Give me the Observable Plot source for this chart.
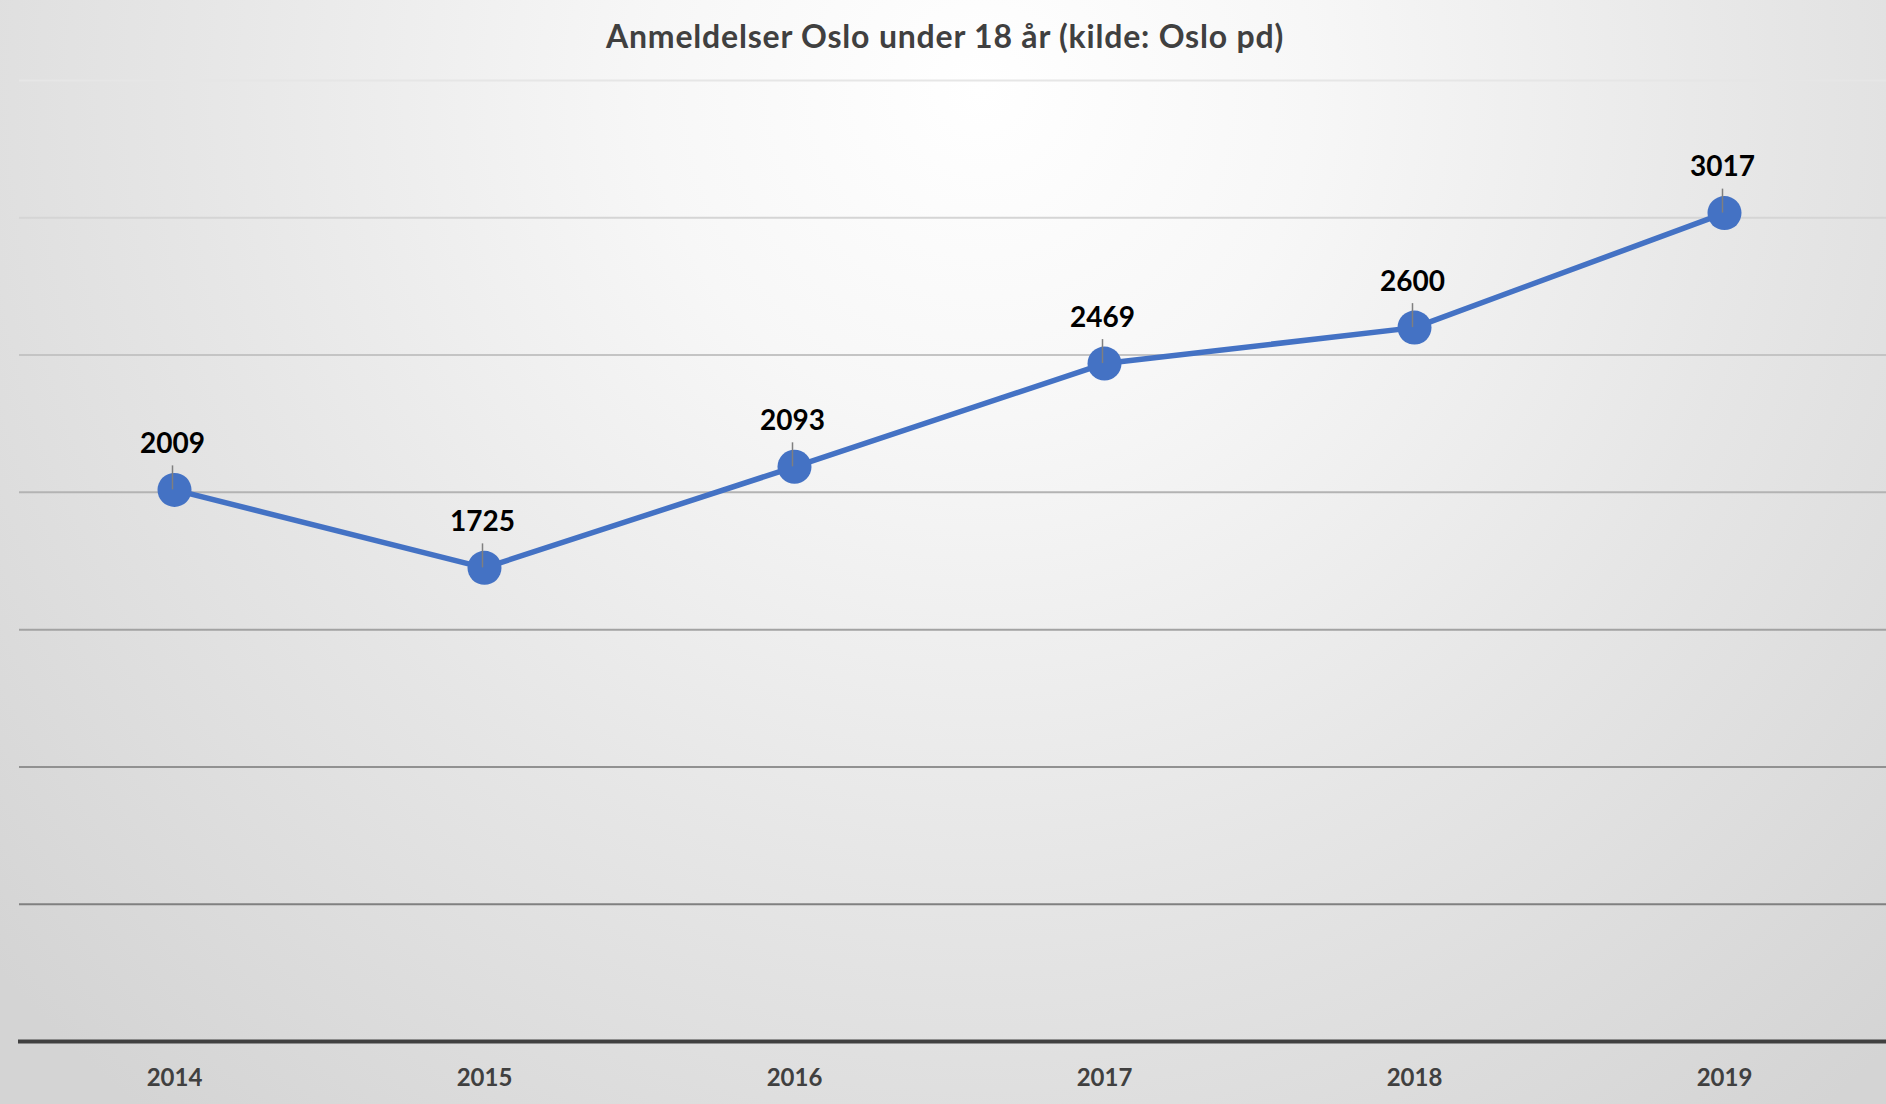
<!DOCTYPE html>
<html>
<head>
<meta charset="utf-8">
<script src="https://cdn.jsdelivr.net/npm/d3@7"></script>
<script src="https://cdn.jsdelivr.net/npm/@observablehq/plot@0.6"></script>
<style>
  html, body { margin: 0; padding: 0; }
  #frame {
    width: 1886px; height: 1104px; overflow: hidden;
    background: radial-gradient(ellipse 70% 120% at 52% 8%, #ffffff 0%, #f7f7f7 25%, #e6e6e6 60%, #d4d4d4 100%);
    font-family: Lato, "Open Sans", sans-serif;
  }
  #title {
    height: 60px; line-height: 72px; text-align: center;
    font-size: 32px; font-weight: bold; color: #404040;
    letter-spacing: 0.8px; padding-left: 4px;
  }
  svg { display: block; background: transparent !important; }
</style>
</head>
<body>
<div id="frame">
  <div id="title">Anmeldelser Oslo under 18 år (kilde: Oslo pd)</div>
  <div id="chart"></div>
</div>
<script>
const years = ["2014", "2015", "2016", "2017", "2018", "2019"];
const counts = [2009, 1725, 2093, 2469, 2600, 3017];
const gridValues = [500, 1000, 1500, 2000, 2500, 3000, 3500];

const data = years.map((y, i) => ({year: y, value: counts[i]}));
const gridColor = d3.scaleLinear().domain([3500, 500]).range(["#e6e6e6", "#808080"]);

const plot = Plot.plot({
  width: 1886,
  height: 1044,
  marginTop: 20,
  marginBottom: 63,
  marginLeft: 17,
  marginRight: 6,
  style: {background: "transparent", fontFamily: "Lato, sans-serif"},
  x: {type: "point", domain: years, padding: 0.5, label: null},
  y: {domain: [0, 3500], axis: null},
  marks: [
    ...gridValues.map(v => Plot.ruleY([v], {stroke: gridColor(v), strokeWidth: 2, insetLeft: 2, insetRight: -6})),
    Plot.ruleY([0], {stroke: "#404040", strokeWidth: 4, insetLeft: 1, insetRight: -6}),
    Plot.axisX({
      tickSize: 0, tickPadding: 27, fontSize: 24, fontWeight: "bold",
      fill: "#404040", label: null
    }),
    Plot.line(data, {x: "year", y: "value", stroke: "#4472C4", strokeWidth: 5.5, curve: "linear"}),
    Plot.dot(data, {x: "year", y: "value", r: 17, fill: "#4472C4", stroke: "none"}),
    Plot.ruleX(data, {x: "year", y1: "value", y2: "value", insetTop: -24, stroke: "#7f7f7f", strokeWidth: 1.5, dx: -2}),
    Plot.text(data, {
      x: "year", y: "value", text: d => String(d.value),
      dy: -46, dx: -2, fontSize: 28, fontWeight: "bold", fill: "#000000",
      lineAnchor: "middle"
    })
  ]
});
document.getElementById("chart").appendChild(plot);
</script>
</body>
</html>
